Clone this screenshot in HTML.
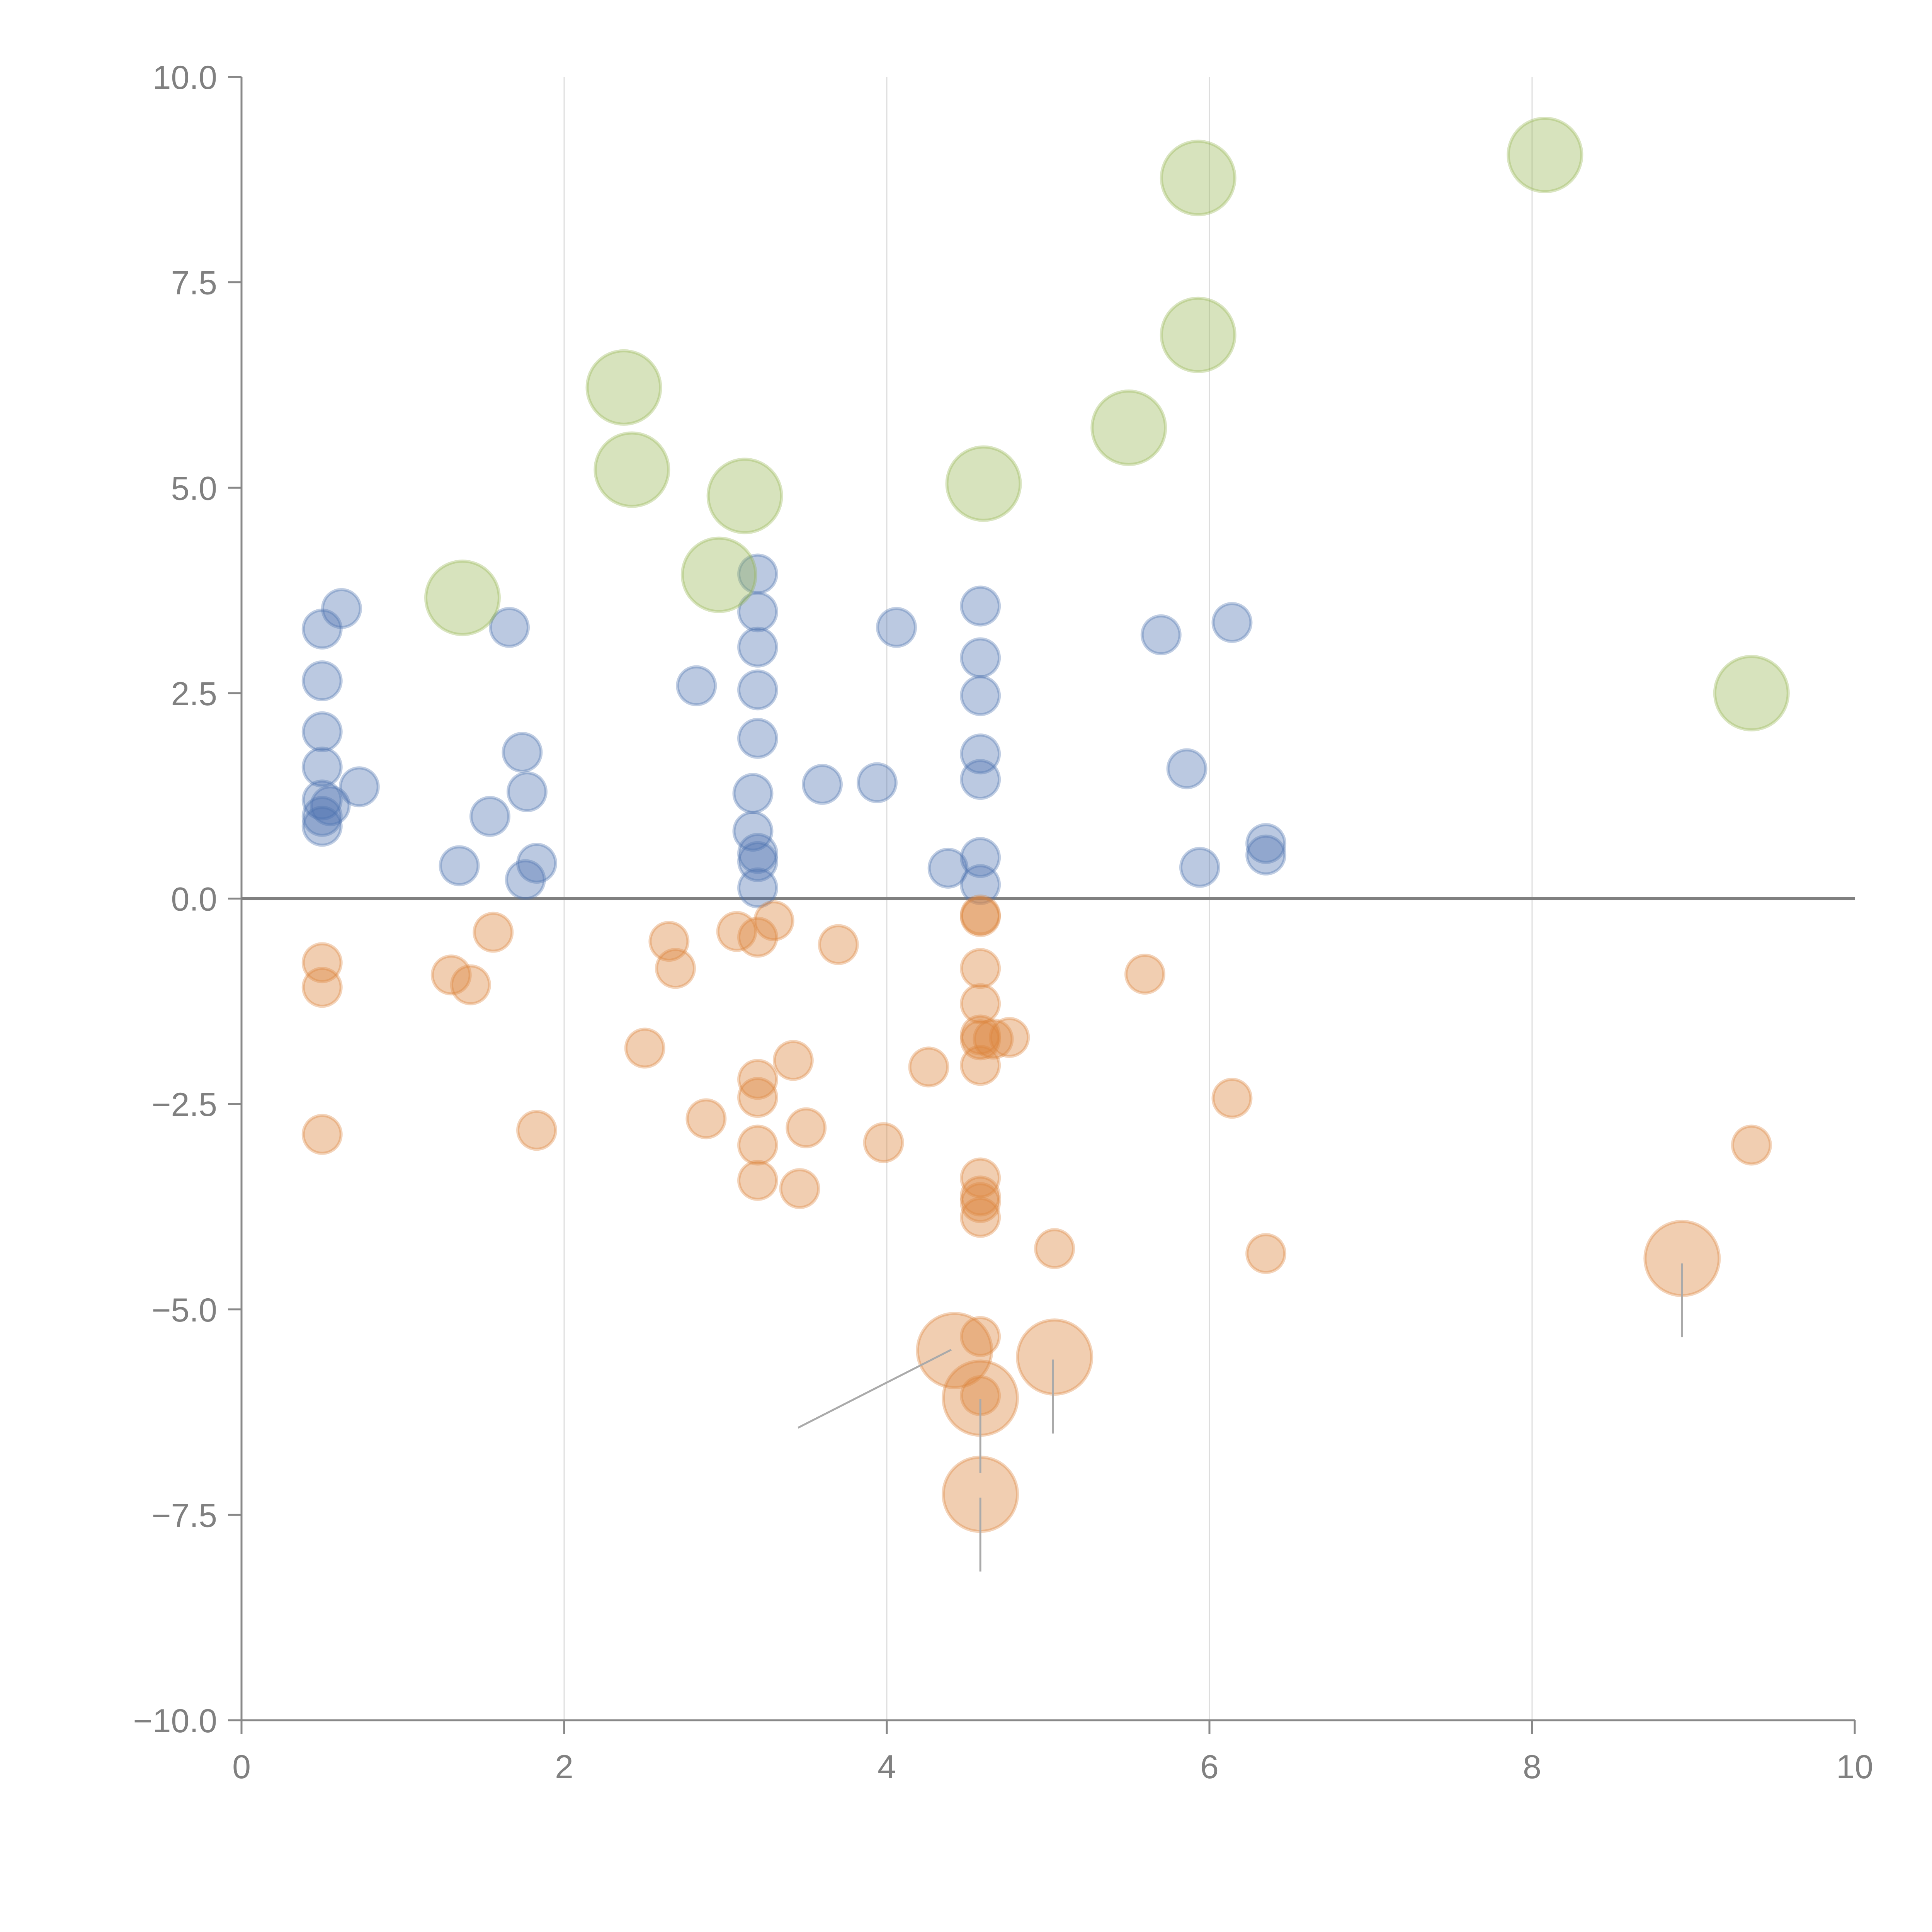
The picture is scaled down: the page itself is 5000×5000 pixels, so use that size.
<!DOCTYPE html>
<html><head><meta charset="utf-8"><style>
html,body{margin:0;padding:0;background:#fff;}
svg{display:block;}
text{font-family:"Liberation Sans",Arial,sans-serif;fill:#808080;}
</style></head><body>
<svg id="chart" width="5000" height="5000" viewBox="0 0 5000 5000" xmlns="http://www.w3.org/2000/svg">
<g id="grid"></g>
<g id="axes"></g>
<g id="marks"></g>
</svg>
<script>
const blueX=[0.5,0.62,0.5,0.5,0.5,0.5,0.55,0.5,0.5,0.73,1.35,1.54,1.66,1.74,1.77,1.83,1.76,2.82,3.2,3.2,3.2,3.2,3.2,3.17,3.17,3.2,3.2,3.2,3.6,3.94,4.06,4.38,4.58,4.58,4.58,4.58,4.58,4.58,4.58,5.7,5.86,5.94,6.14,6.35,6.35];
const blueY=[3.28,3.53,2.65,2.03,1.6,1.2,1.13,1.0,0.88,1.36,0.4,1.0,3.3,1.78,1.3,0.43,0.23,2.59,3.95,3.49,3.06,2.54,1.95,1.28,0.82,0.55,0.45,0.13,1.39,1.41,3.3,0.37,3.56,2.93,2.47,1.76,1.45,0.5,0.17,3.21,1.58,0.38,3.36,0.67,0.53];
const orangeX=[0.5,0.5,0.5,1.3,1.42,1.56,1.83,2.5,2.65,2.69,2.88,3.07,3.2,3.3,3.2,3.2,3.2,3.2,3.42,3.46,3.5,3.7,3.98,4.26,4.58,4.58,4.58,4.58,4.58,4.58,4.66,4.76,4.58,4.58,4.58,4.58,4.58,5.04,5.6,6.14,6.35,9.36,4.58,4.58];
const orangeY=[-0.78,-1.08,-2.87,-0.93,-1.05,-0.41,-2.82,-1.82,-0.52,-0.85,-2.68,-0.4,-0.47,-0.27,-2.2,-2.42,-3.0,-3.43,-1.97,-3.53,-2.79,-0.56,-2.97,-2.05,-0.2,-0.22,-0.85,-1.28,-1.66,-1.72,-1.71,-1.69,-2.03,-3.4,-3.62,-3.7,-3.88,-4.26,-0.92,-2.43,-4.32,-3.0,-5.33,-6.05];
const bigOrangeX=[4.42,4.58,4.58,5.04,8.93];
const bigOrangeY=[-5.5,-6.08,-7.25,-5.58,-4.38];
const greenX=[1.37,2.37,2.42,2.96,3.12,4.6,5.5,5.93,5.93,8.08,9.36];
const greenY=[3.66,6.22,5.22,3.94,4.9,5.05,5.73,8.77,6.86,9.05,2.5];
const annoX1=[4.58,4.58,5.03,8.93,4.40];
const annoY1=[-6.09,-7.29,-5.61,-4.44,-5.49];
const annoX2=[4.58,4.58,5.03,8.93,3.45];
const annoY2=[-6.99,-8.19,-6.51,-5.34,-6.44];
const xTicks=[0,2,4,6,8,10];
const xTickLabels=["0","2","4","6","8","10"];
const yTicks=[10,7.5,5,2.5,0,-2.5,-5,-7.5,-10];
const yTickLabels=["10.0","7.5","5.0","2.5","0.0","\u22122.5","\u22125.0","\u22127.5","\u221210.0"];

const NS="http://www.w3.org/2000/svg";
const X0=625,X1=4800,Y0=4452,Y1=199;
function sx(v){return X0+(v-0)/(10-0)*(X1-X0);}
function sy(v){return Y0-(v+10)/20*(Y0-Y1);}
function mk(tag,attrs,parent){const e=document.createElementNS(NS,tag);for(const k in attrs)e.setAttribute(k,attrs[k]);parent.appendChild(e);return e;}
const grid=document.getElementById('grid'),axes=document.getElementById('axes'),marks=document.getElementById('marks');

xTicks.forEach((t,i)=>{
  if(t>0&&t<10){
    const g=mk('line',{x1:sx(t),x2:sx(t),y1:Y1,y2:Y0,stroke:'#dddddd','stroke-width':3},grid);
    
    
  }
  const tk=mk('line',{x1:sx(t),x2:sx(t),y1:Y0,y2:Y0+35,stroke:'#888','stroke-width':5},axes);
  
  
  const tx=mk('text',{x:sx(t),y:Y0+150,'font-size':86,'text-anchor':'middle'},axes);
  tx.textContent=xTickLabels[i];
  
  
});
yTicks.forEach((t,i)=>{
  const tk=mk('line',{x1:X0-35,x2:X0,y1:sy(t),y2:sy(t),stroke:'#888','stroke-width':5},axes);
  
  
  const tx=mk('text',{x:X0-63,y:sy(t)+31,'font-size':86,'text-anchor':'end'},axes);
  tx.textContent=yTickLabels[i];
  
  
});
const ls=mk('line',{x1:X0,x2:X0,y1:Y1,y2:Y0,stroke:'#888','stroke-width':5},axes);


const bs=mk('line',{x1:X0,x2:X1,y1:Y0,y2:Y0,stroke:'#888','stroke-width':5},axes);


const zl=mk('line',{x1:X0,x2:X1,y1:sy(0),y2:sy(0),stroke:'#808080','stroke-width':8},axes);



function series(xs,ys,r,fill,stroke,name){
  xs.forEach((x,i)=>{
    const c=mk('circle',{cx:sx(x),cy:sy(ys[i]),r:r,fill:fill,stroke:stroke,'stroke-width':8},marks);
    
    
  });
}
series(blueX,blueY,49,'rgba(76,114,176,0.38)','rgba(76,114,176,0.35)','blue-point');
series(orangeX,orangeY,49,'rgba(221,132,60,0.4)','rgba(221,132,60,0.35)','orange-point');
series(bigOrangeX,bigOrangeY,96,'rgba(221,132,60,0.4)','rgba(221,132,60,0.35)','orange-large-point');
series(greenX,greenY,95,'rgba(150,181,81,0.38)','rgba(150,181,81,0.35)','green-point');
annoX1.forEach((x,i)=>{
  const l=mk('line',{x1:sx(x),y1:sy(annoY1[i]),x2:sx(annoX2[i]),y2:sy(annoY2[i]),stroke:'#aaaaaa','stroke-width':5},marks);
  
  
});
</script>
</body></html>
